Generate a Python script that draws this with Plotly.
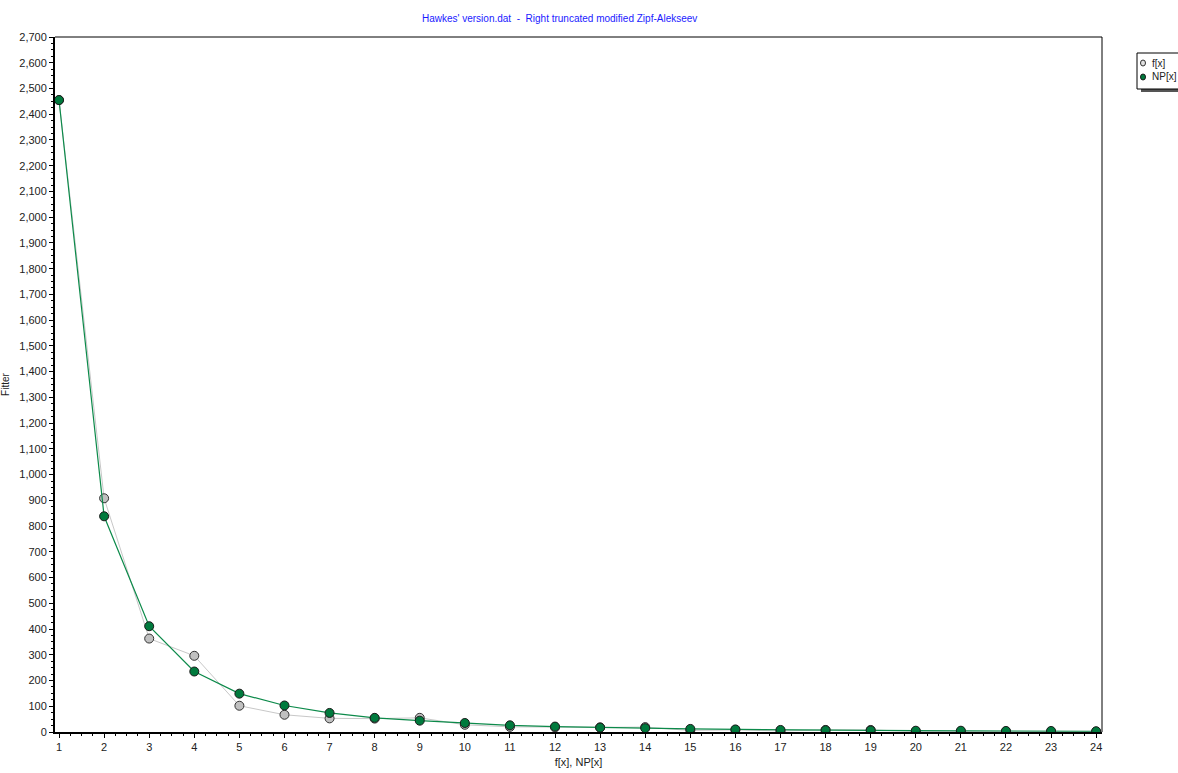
import plotly.graph_objects as go

x_vals = list(range(1, 25))
f_vals = [2455, 908, 363, 296, 102, 67, 53, 52, 55, 28, 20, 18, 18, 19, 6, 8, 4, 8, 8, 2, 2, 2, 1, 1]
np_vals = [2455, 838, 411, 235, 149, 103, 74, 55, 44, 35, 26, 21, 17, 15, 12, 10, 8, 7, 6, 5, 5, 4, 4, 3]

series_names = ["f[x]", "NP[x]"]
title_text = "Hawkes' version.dat  -  Right truncated modified Zipf-Alekseev"
x_label = "f[x], NP[x]"
y_label = "Fitter"

FONT = "Liberation Sans, Arial, sans-serif"

# page body margin is removed by the post script, so figure pixels = page pixels
FIG_W, FIG_H = 1178, 773
# plot-area geometry in page pixels
L, R, T, B = 55, 1102, 37, 732
W, H = R - L, B - T


def px(xp):
    return (xp - L) / W


def py(yp):
    return (B - yp) / H


fig = go.Figure()
fig.add_trace(go.Scatter(
    x=x_vals, y=f_vals, name=series_names[0], mode="lines+markers",
    line=dict(color="#c8c8c8", width=1),
    marker=dict(symbol="circle", size=9, color="#c0c0c0",
                line=dict(color="#333333", width=1)),
    showlegend=False,
))
fig.add_trace(go.Scatter(
    x=x_vals, y=np_vals, name=series_names[1], mode="lines+markers",
    line=dict(color="#0c8a4a", width=1.2),
    marker=dict(symbol="circle", size=9, color="#007a3d",
                line=dict(color="#1a1a1a", width=1)),
    showlegend=False,
))

fig.update_layout(
    width=FIG_W, height=FIG_H,
    margin=dict(l=L, r=FIG_W - R, t=T, b=FIG_H - B, autoexpand=False),
    paper_bgcolor="white", plot_bgcolor="white",
    font=dict(family=FONT, size=11, color="#222222"),
    title=dict(text=title_text, x=0.482, xref="paper", xanchor="center",
               y=1 - 18 / FIG_H, yref="container", yanchor="middle",
               font=dict(family=FONT, size=10, color="#1a1aff")),
    showlegend=False,
    xaxis=dict(
        range=[0.911, 24.13], tickmode="linear", tick0=1, dtick=1,
        showgrid=False, zeroline=False,
        showline=True, linecolor="black", linewidth=2, mirror=False,
        ticks="outside", ticklen=4, tickcolor="black",
        tickfont=dict(family=FONT, size=11),
        minor=dict(dtick=0.25, ticks="outside", ticklen=2, tickcolor="black"),
        title=dict(text=x_label, font=dict(family=FONT, size=11), standoff=6),
    ),
    yaxis=dict(
        range=[0, 2700], tickmode="linear", tick0=0, dtick=100,
        tickformat=",d",
        showgrid=False, zeroline=False,
        showline=True, linecolor="black", linewidth=2, mirror=False,
        ticks="outside", ticklen=4, tickcolor="black",
        tickfont=dict(family=FONT, size=11),
        minor=dict(dtick=25, ticks="outside", ticklen=2, tickcolor="black"),
        title=dict(text=y_label, font=dict(family=FONT, size=10), standoff=9),
    ),
)

# thin frame on top and right of plot area
fig.add_shape(type="line", xref="paper", yref="paper", x0=0, x1=1, y0=1, y1=1,
              line=dict(color="black", width=1))
fig.add_shape(type="line", xref="paper", yref="paper", x0=1, x1=1, y0=0, y1=1,
              line=dict(color="black", width=1))

# manual legend box with shadow
fig.add_shape(type="rect", xref="paper", yref="paper",
              x0=px(1141), x1=px(1195), y0=py(92), y1=py(57),
              line=dict(width=0), fillcolor="#555555", layer="above")
fig.add_shape(type="rect", xref="paper", yref="paper",
              x0=px(1137), x1=px(1195), y0=py(89), y1=py(53),
              line=dict(color="black", width=1), fillcolor="white", layer="above")

legend_rows = [63, 77]
legend_fill = ["#e0e0e0", "#007a3d"]
legend_edge = ["#333333", "#1a1a1a"]
for name, yrow, fc, ec in zip(series_names, legend_rows, legend_fill, legend_edge):
    fig.add_shape(type="circle", xref="paper", yref="paper",
                  xsizemode="pixel", ysizemode="pixel",
                  xanchor=px(1143), yanchor=py(yrow),
                  x0=-2.5, x1=2.5, y0=-3, y1=3,
                  line=dict(color=ec, width=1), fillcolor=fc, layer="above")
    fig.add_annotation(text=name, xref="paper", yref="paper",
                       x=px(1150), y=py(yrow), xanchor="left", yanchor="middle",
                       showarrow=False, font=dict(family=FONT, size=10, color="#222222"))

fig.write_html("out.html",
               config={"displayModeBar": False},
               post_script="document.body.style.margin='0';document.body.style.overflow='hidden';")
